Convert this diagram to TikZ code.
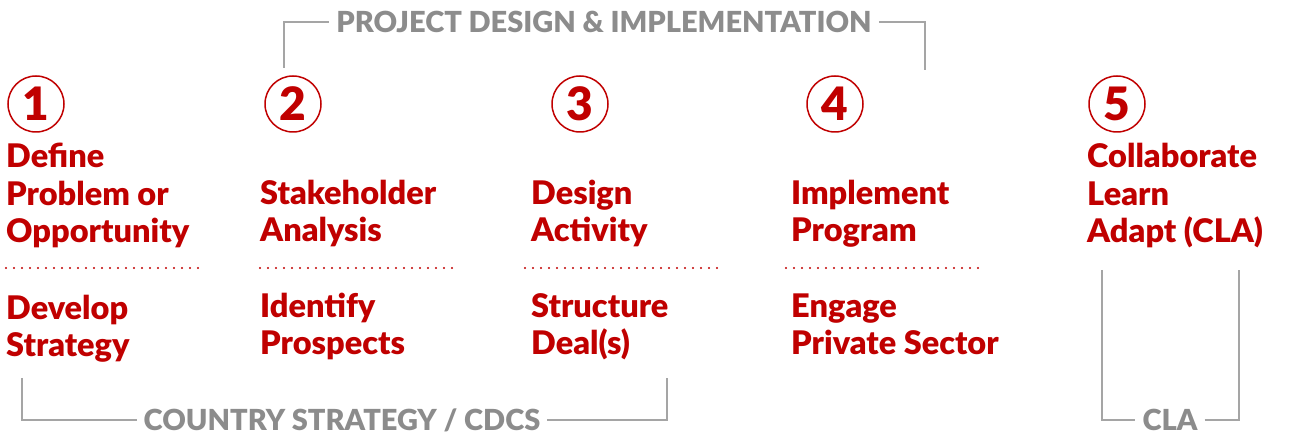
\documentclass[tikz,border=0pt]{standalone}
\usepackage{fontspec}
\setmainfont{Lato}[BoldFont={Lato Black}]
\usepackage{tikz}
\usetikzlibrary{positioning}
\definecolor{stepred}{RGB}{192, 0, 0}
\definecolor{labelgray}{RGB}{140, 140, 140}
\definecolor{linegray}{RGB}{165, 165, 165}

\begin{document}
\begin{tikzpicture}[
    x=1pt, y=-1pt,
    stepnum/.style={draw=stepred, line width=1.5pt, circle, minimum size=56pt, inner sep=0pt, text=stepred, font=\fontsize{46}{46}\selectfont\bfseries},
    steptext/.style={anchor=base west, align=left, inner sep=0pt, text=stepred, font=\fontsize{32.5}{37.5}\selectfont\bfseries},
    divider/.style={stepred, line width=2.2pt, line cap=round, dash pattern=on 0pt off 8pt},
    grouplabel/.style={text=labelgray, inner sep=7pt, font=\fontsize{29}{29}\selectfont\bfseries},
    bracket/.style={draw=linegray, line width=1.5pt}
]
    \useasboundingbox (0,0) rectangle (1294,435);

    % Step numbers
    \node[stepnum] (n1) at (36, 104) {1};
    \node[stepnum] (n2) at (293, 104) {2};
    \node[stepnum] (n3) at (580, 104) {3};
    \node[stepnum] (n4) at (835, 104) {4};
    \node[stepnum] (n5) at (1117, 104) {5};

    % Upper step texts (anchored on last line)
    \node[steptext] (define) at (6, 243) {Define\\Problem or\\Opportunity};
    \node[steptext] (stakeholder) at (260, 242) {Stakeholder\\Analysis};
    \node[steptext] (design) at (531, 242) {Design\\Activity};
    \node[steptext] (implement) at (791, 242) {Implement\\Program};
    \node[steptext] (cla) at (1087, 243) {Collaborate\\Learn\\Adapt (CLA)};

    % Dotted dividers
    \draw[divider] (6, 268) -- (200, 268);
    \draw[divider] (260, 268) -- (455, 268);
    \draw[divider] (525, 268) -- (720, 268);
    \draw[divider] (786, 268) -- (980, 268);

    % Lower step texts
    \node[steptext] (develop) at (6, 357) {Develop\\Strategy};
    \node[steptext] (identify) at (260, 355) {Identify\\Prospects};
    \node[steptext] (structure) at (531, 355) {Structure\\Deal(s)};
    \node[steptext] (engage) at (791, 355) {Engage\\Private Sector};

    % Group labels
    \node[grouplabel] (pdi) at (604, 22) {PROJECT DESIGN \& IMPLEMENTATION};
    \node[grouplabel] (cdcs) at (342, 420) {COUNTRY STRATEGY / CDCS};
    \node[grouplabel] (clalabel) at (1170, 420) {CLA};

    % Bracket ends
    \coordinate (pdiL) at (284, 68);
    \coordinate (pdiR) at (925, 70);
    \coordinate (cdcsL) at (22, 378);
    \coordinate (cdcsR) at (667, 378);
    \coordinate (claL) at (1102, 270);
    \coordinate (claR) at (1239, 270);

    % Brackets
    \draw[bracket] (pdiL) |- (pdi.west);
    \draw[bracket] (pdi.east) -| (pdiR);
    \draw[bracket] (cdcsL) |- (cdcs.west);
    \draw[bracket] (cdcs.east) -| (cdcsR);
    \draw[bracket] (claL) |- (clalabel.west);
    \draw[bracket] (clalabel.east) -| (claR);

\end{tikzpicture}
\end{document}
